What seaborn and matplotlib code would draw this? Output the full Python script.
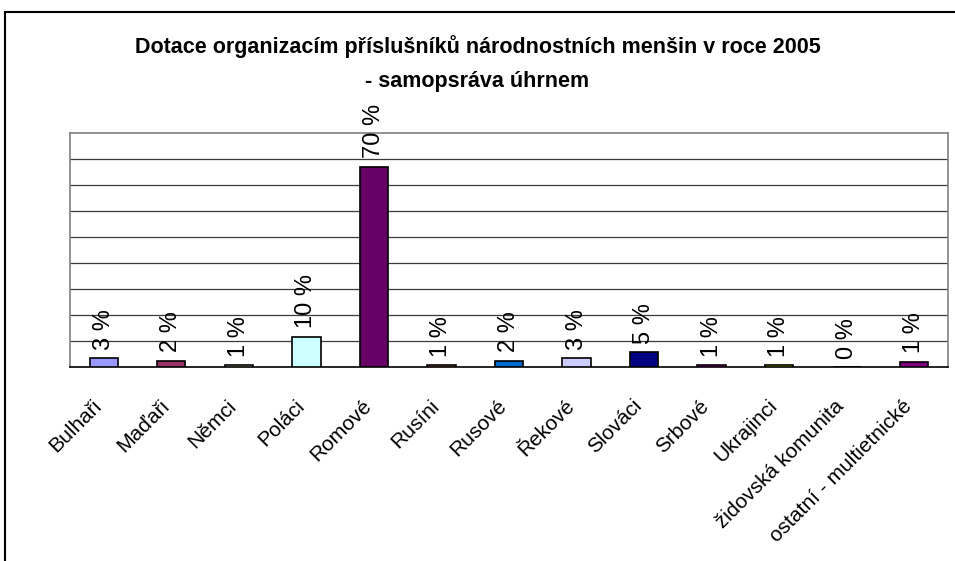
import matplotlib
matplotlib.use("Agg")
import matplotlib.pyplot as plt
import matplotlib.transforms as mtransforms
import seaborn as sns
from matplotlib.patches import Rectangle

# data (bar heights in grid units, labels as printed)
categories = ["Bulhaři", "Maďaři", "Němci", "Poláci", "Romové", "Rusíni", "Rusové",
              "Řekové", "Slováci", "Srbové", "Ukrajinci", "židovská komunita",
              "ostatní - multietnické"]
values = [0.33, 0.24, 0.08, 1.17, 7.70, 0.08, 0.24, 0.33, 0.57, 0.08, 0.08, 0.0, 0.20]
value_labels = ["3 %", "2 %", "1 %", "10 %", "70 %", "1 %", "2 %", "3 %", "5 %",
                "1 %", "1 %", "0 %", "1 %"]
bar_colors = ["#9999FF", "#993366", "#FFFFCC", "#CCFFFF", "#660066", "#FF8080",
              "#0066CC", "#CCCCFF", "#000080", "#FF00FF", "#FFFF00", "#00FFFF",
              "#800080"]
title_lines = ["Dotace organizacím příslušníků národnostních menšin v roce 2005",
               "- samopsráva úhrnem"]

sns.set_style("white")
plt.rcParams["font.family"] = ["Liberation Sans", "DejaVu Sans"]
plt.rcParams["text.color"] = "black"
plt.rcParams["xtick.color"] = "black"
plt.rcParams["xtick.labelcolor"] = "black"

fig = plt.figure(figsize=(9.55, 5.61), dpi=100)
ax = fig.add_axes([70 / 955, 1 - 367 / 561, 878 / 955, 234 / 561])

sns.barplot(x=categories, y=values, hue=categories, palette=bar_colors,
            saturation=1, legend=False, width=0.42, edgecolor="black",
            linewidth=1.2, ax=ax, zorder=3)

for cont, lab in zip(ax.containers, value_labels):
    ax.bar_label(cont, labels=[lab], rotation=90, padding=6, fontsize=17,
                 color="black")

ax.set_ylim(0, 9)
ax.set_xlim(-0.5, len(categories) - 0.5)
ax.set_yticks(range(1, 9))
ax.set_yticklabels([])
ax.tick_params(axis="y", length=0)
ax.yaxis.grid(True, color="#3a3a3a", linewidth=0.9)
ax.set_axisbelow(True)

# category labels at centres, tick marks between categories
ax.set_xticks(range(len(categories)))
ax.set_xticklabels(categories, rotation=45, ha="right", rotation_mode="anchor",
                   fontsize=15, color="black")
ax.tick_params(axis="x", which="major", length=0, pad=21)
shift = mtransforms.ScaledTranslation(-12 / 100, 0, fig.dpi_scale_trans)
for lbl in ax.get_xticklabels():
    lbl.set_transform(lbl.get_transform() + shift)
ax.set_xticks([i - 0.5 for i in range(len(categories) + 1)], minor=True)
ax.tick_params(axis="x", which="minor", length=5, width=1, color="black",
               direction="out")
ax.set_xlabel("")
ax.set_ylabel("")

for side in ["top", "left", "right"]:
    ax.spines[side].set_color("#808080")
    ax.spines[side].set_linewidth(1.2)
ax.spines["bottom"].set_color("black")
ax.spines["bottom"].set_linewidth(1.2)

fig.text(0.5, 1 - 47 / 561, title_lines[0], ha="center", va="center",
         fontsize=15.5, fontweight="bold")
fig.text(0.5, 1 - 81 / 561, title_lines[1], ha="center", va="center",
         fontsize=15.5, fontweight="bold")

# chart frame, cut off at right and bottom like the reference
fig.patches.append(Rectangle((5 / 955, -0.2), 1.2, 1.2 - 12 / 561,
                             transform=fig.transFigure, fill=False,
                             edgecolor="black", linewidth=1.5))

fig.savefig("out.png", dpi=100)
